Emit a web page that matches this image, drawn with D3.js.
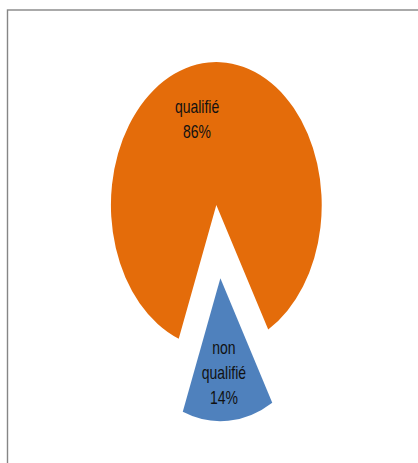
<!DOCTYPE html>
<html>
<head>
<meta charset="utf-8">
<script src="https://cdn.jsdelivr.net/npm/d3@7"></script>
<style>
  html, body { margin: 0; padding: 0; background: #fff; }
  svg { display: block; }
</style>
</head>
<body>
<svg id="chart" width="418" height="463"></svg>
<script>
// ---- data ----
const categories = ["qualifié", "non qualifié"];
const values = [86, 14];
const percentLabels = ["86%", "14%"];
const colors = ["#E46C0A", "#4F81BD"];

// ---- layout ----
const W = 418, H = 463;
const rx = 105.4;            // horizontal radius
const stretch = 1.357;       // vertical stretch of the pie (ellipse)
const cx = 218.35, cy = 241.65;
const explode = 27;          // explosion distance (in radius units)
const startDeg = 200.9;      // first slice start angle (clockwise from 12 o'clock)
const deg = Math.PI / 180;
// label anchors in polar coords relative to each slice apex (unstretched units)
const labelPolar = [{ angle: 342.9, r: 65.5 }, { angle: 177.1, r: 70.7 }];
const lineGap = 25;

const svg = d3.select("#chart");

// chart frame (clipped by the window on right/bottom)
svg.append("rect")
  .attr("x", 7.5).attr("y", 10)
  .attr("width", 430).attr("height", 470)
  .attr("fill", "none").attr("stroke", "#868686").attr("stroke-width", 1.4);

const pie = d3.pie().sort(null)
  .startAngle(startDeg * deg)
  .endAngle(startDeg * deg + 2 * Math.PI);
const arcs = pie(values);
const arc = d3.arc().innerRadius(0).outerRadius(rx);

arcs.forEach((a, i) => {
  const mid = (a.startAngle + a.endAngle) / 2;
  const ex = explode * Math.sin(mid);
  const ey = -explode * Math.cos(mid);
  const apexX = cx + ex;
  const apexY = cy + ey * stretch;

  svg.append("path")
    .attr("d", arc(a))
    .attr("fill", colors[i])
    .attr("transform", `translate(${apexX},${apexY}) scale(1,${stretch})`);

  const lp = labelPolar[i];
  const lx = apexX + lp.r * Math.sin(lp.angle * deg);
  const ly = apexY - lp.r * Math.cos(lp.angle * deg) * stretch;

  const words = categories[i].split(" ");
  const lines = words.length > 1 ? [words[0], words.slice(1).join(" "), percentLabels[i]]
                                 : [categories[i], percentLabels[i]];
  const n = lines.length;
  lines.forEach((t, j) => {
    const by = ly + (j - (n - 1) / 2) * lineGap + 5;
    svg.append("text")
      .attr("transform", `translate(${lx},${by}) scale(1,1.3)`)
      .attr("text-anchor", "middle")
      .attr("font-family", "'Liberation Sans', Arial, sans-serif")
      .attr("font-size", 14)
      .attr("fill", "#111")
      .text(t);
  });
});
</script>
</body>
</html>
